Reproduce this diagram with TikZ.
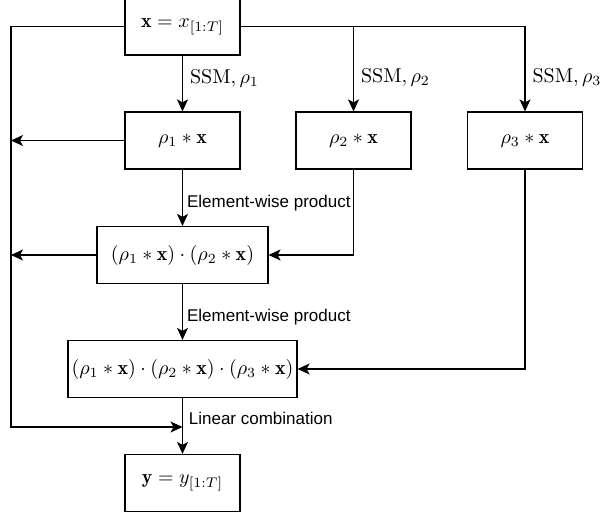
\documentclass[tikz,border=0pt]{standalone}
\usepackage{fontspec}
\newfontfamily\lblfont{Liberation Sans}
\usetikzlibrary{arrows.meta}

\begin{document}
\begin{tikzpicture}[x=0.5pt,y=-0.5pt,
  box/.style={draw,line width=0.6pt,minimum width=57.5pt,minimum height=28.5pt,inner sep=1pt},
  arr/.style={-{Stealth[length=6pt,width=5.5pt,inset=1.5pt]},line width=0.6pt},
  lbl/.style={font=\lblfont\fontsize{8.5}{10}\selectfont,inner sep=2pt},
  ssm/.style={inner sep=3.5pt}]
 	\useasboundingbox (0,0) rectangle (602,516);
 	% boxes
 	\node[box] (inp) at (182.5,26.5) {$\mathbf{x} = x_{[1:T]}$};
 	\node[box] (conv1) at (182.5,140.5) {$\rho_1 * \mathbf{x}$};
 	\node[box] (conv2) at (353.5,140.5) {$\rho_2 * \mathbf{x}$};
 	\node[box] (conv3) at (525,140.5) {$\rho_3 * \mathbf{x}$};
 	\node[box,minimum width=85.5pt] (prod12) at (182.5,255) {$(\rho_1 * \mathbf{x}) \cdot (\rho_2 * \mathbf{x})$};
 	\node[box,minimum width=114.5pt] (prod123) at (182.5,369) {$(\rho_1 * \mathbf{x}) \cdot (\rho_2 * \mathbf{x}) \cdot (\rho_3 * \mathbf{x})$};
 	\node[box] (out) at (182.5,483) {$\mathbf{y} = y_{[1:T]}$};
 	% left rail
 	\coordinate (railtop) at (11,26.5);
 	\coordinate (railbot) at (11,427);
 	\coordinate (join) at (182.5,427);
 	% SSM branches
 	\draw[arr] (inp.south) -- node[ssm,pos=0.4,right]{$\mathrm{SSM}, \rho_1$} (conv1.north);
 	\draw[arr] (inp.east) -| node[ssm,pos=0.8,right]{$\mathrm{SSM}, \rho_2$} (conv2.north);
 	\draw[arr] (inp.east) -| node[ssm,pos=0.8,right]{$\mathrm{SSM}, \rho_3$} (conv3.north);
 	% products
 	\draw[arr] (conv1.south) -- node[lbl,pos=0.6,right]{Element-wise product} (prod12.north);
 	\draw[arr] (conv2.south) |- (prod12.east);
 	\draw[arr] (prod12.south) -- node[lbl,pos=0.6,right]{Element-wise product} (prod123.north);
 	\draw[arr] (conv3.south) |- (prod123.east);
 	% skips to the rail
 	\draw[arr] (conv1.west) -- (conv1.west -| railtop);
 	\draw[arr] (prod12.west) -- (prod12.west -| railtop);
 	\draw[arr] (inp.west) -- (railtop) -- (railbot) -- (join);
 	% output
 	\draw[arr] (prod123.south) -- (out.north);
 	\node[lbl,anchor=south west,inner sep=1pt] (lincomb) at ([xshift=2pt]join) {Linear combination};
\end{tikzpicture}
\end{document}
